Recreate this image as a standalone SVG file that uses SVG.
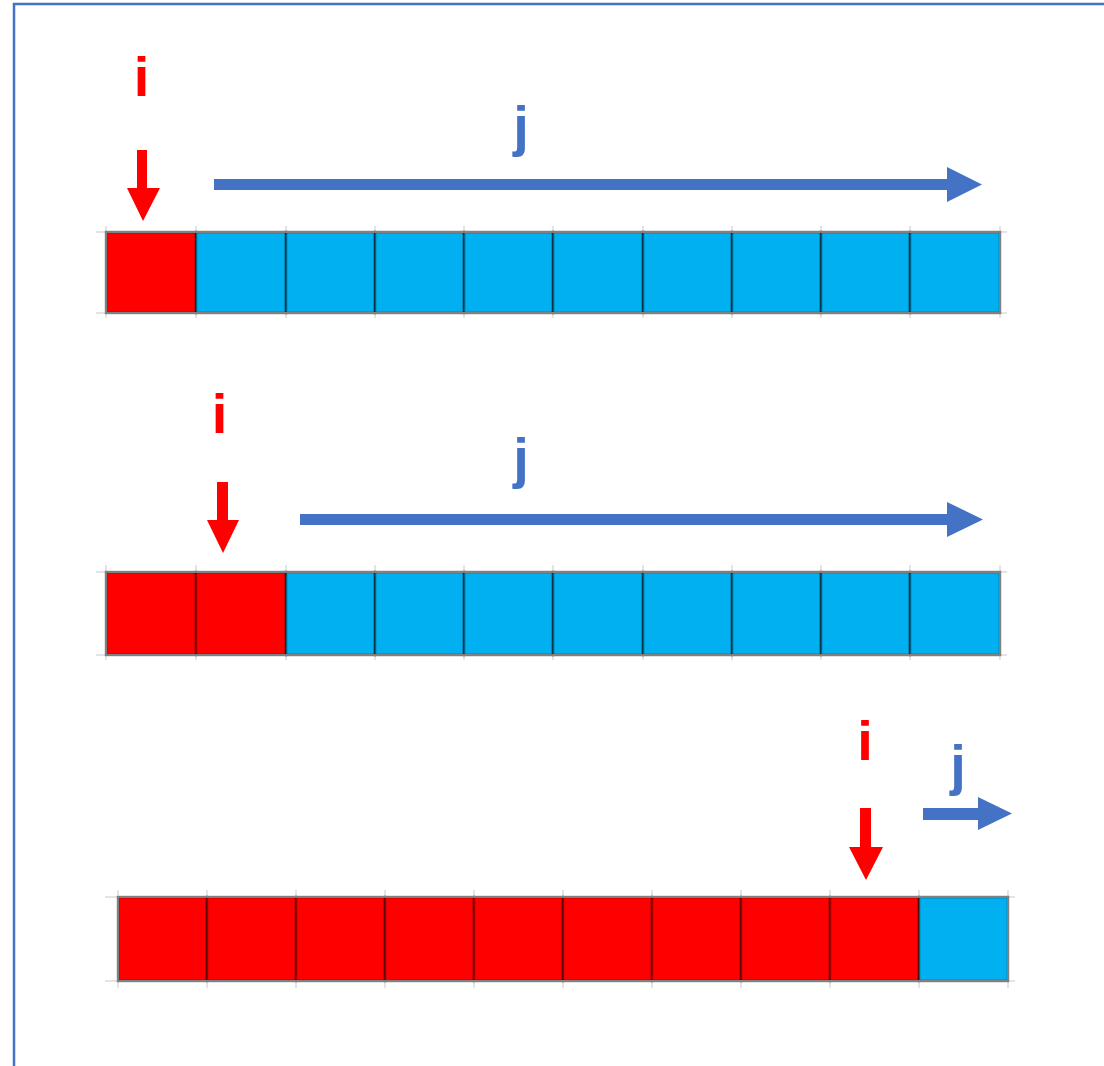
<svg xmlns="http://www.w3.org/2000/svg" width="1104" height="1066" viewBox="0 0 1104 1066">
<style>
.lbl{font-family:"Liberation Sans",Arial,sans-serif;font-weight:bold;font-size:56px;text-anchor:middle}
.li{fill:#FF0000}
.lj{fill:#4472C4}
.red{fill:#FF0000;stroke:#000;stroke-opacity:0.4;stroke-width:2.5}
.blue{fill:#00B0F0;stroke:#000;stroke-opacity:0.45;stroke-width:2.5}
.grid{stroke:#e4e4e4;stroke-width:2}
.outer{fill:none;stroke:#808080;stroke-width:2}
.ia{fill:#FF0000}
.ja{fill:#4472C4}
</style>
<rect x="0" y="0" width="1104" height="1066" fill="#fff"/>
<g id="frame">
<path d="M14 1066 V4 H1104" fill="none" stroke="#4472C4" stroke-width="2.5"/>
</g>

<g id="row1">
<g class="grid">
<path d="M106 226 V318 M196 226 V318 M286 226 V318 M375 226 V318 M464 226 V318 M553 226 V318 M643 226 V318 M732 226 V318 M821 226 V318 M910 226 V318 M1000 226 V318 M96 232 H1007 M96 313 H1007"/>
</g>
<rect class="red" x="106" y="232" width="90" height="81"/>
<rect class="blue" x="196" y="232" width="90" height="81"/>
<rect class="blue" x="286" y="232" width="89" height="81"/>
<rect class="blue" x="375" y="232" width="89" height="81"/>
<rect class="blue" x="464" y="232" width="89" height="81"/>
<rect class="blue" x="553" y="232" width="90" height="81"/>
<rect class="blue" x="643" y="232" width="89" height="81"/>
<rect class="blue" x="732" y="232" width="89" height="81"/>
<rect class="blue" x="821" y="232" width="89" height="81"/>
<rect class="blue" x="910" y="232" width="90" height="81"/>
<rect class="outer" x="106" y="232" width="894" height="81"/>
</g>

<g id="row2">
<g class="grid">
<path d="M106 565 V660 M196 565 V660 M286 565 V660 M375 565 V660 M464 565 V660 M553 565 V660 M643 565 V660 M732 565 V660 M821 565 V660 M910 565 V660 M1000 565 V660 M96 572 H1007 M96 655 H1007"/>
</g>
<rect class="red" x="106" y="572" width="90" height="83"/>
<rect class="red" x="196" y="572" width="90" height="83"/>
<rect class="blue" x="286" y="572" width="89" height="83"/>
<rect class="blue" x="375" y="572" width="89" height="83"/>
<rect class="blue" x="464" y="572" width="89" height="83"/>
<rect class="blue" x="553" y="572" width="90" height="83"/>
<rect class="blue" x="643" y="572" width="89" height="83"/>
<rect class="blue" x="732" y="572" width="89" height="83"/>
<rect class="blue" x="821" y="572" width="89" height="83"/>
<rect class="blue" x="910" y="572" width="90" height="83"/>
<rect class="outer" x="106" y="572" width="894" height="83"/>
</g>

<g id="row3">
<g class="grid">
<path d="M118 890 V988 M207 890 V988 M296 890 V988 M385 890 V988 M474 890 V988 M563 890 V988 M652 890 V988 M741 890 V988 M830 890 V988 M919 890 V988 M1008 890 V988 M105 897 H1015 M105 981 H1015"/>
</g>
<rect class="red" x="118" y="897" width="89" height="84"/>
<rect class="red" x="207" y="897" width="89" height="84"/>
<rect class="red" x="296" y="897" width="89" height="84"/>
<rect class="red" x="385" y="897" width="89" height="84"/>
<rect class="red" x="474" y="897" width="89" height="84"/>
<rect class="red" x="563" y="897" width="89" height="84"/>
<rect class="red" x="652" y="897" width="89" height="84"/>
<rect class="red" x="741" y="897" width="89" height="84"/>
<rect class="red" x="830" y="897" width="89" height="84"/>
<rect class="blue" x="919" y="897" width="89" height="84"/>
<rect class="outer" x="118" y="897" width="890" height="84"/>
</g>

<g id="connectors">
<polygon class="ia" points="137,150 147,150 147,188 160,188 143,221 127,188 137,188"/>
<polygon class="ja" points="214,179 947,179 947,167 982,184.5 947,202 947,190 214,190"/>
<polygon class="ia" points="217,482 228,482 228,520 239,520 223,553 207,520 217,520"/>
<polygon class="ja" points="300,514 947,514 947,502 983,519.5 947,537 947,525 300,525"/>
<polygon class="ia" points="860,808 871,808 871,847 883,847 866,880 849,847 860,847"/>
<polygon class="ja" points="923,808 978,808 978,797 1012,813.5 978,830 978,820 923,820"/>
</g>

<g id="labels">
<text class="lbl li" x="141.5" y="96">i</text>
<text class="lbl lj" x="521" y="145">j</text>
<text class="lbl li" x="219.5" y="433">i</text>
<text class="lbl lj" x="521" y="477">j</text>
<text class="lbl li" x="865" y="760">i</text>
<text class="lbl lj" x="958" y="784">j</text>
</g>
</svg>
